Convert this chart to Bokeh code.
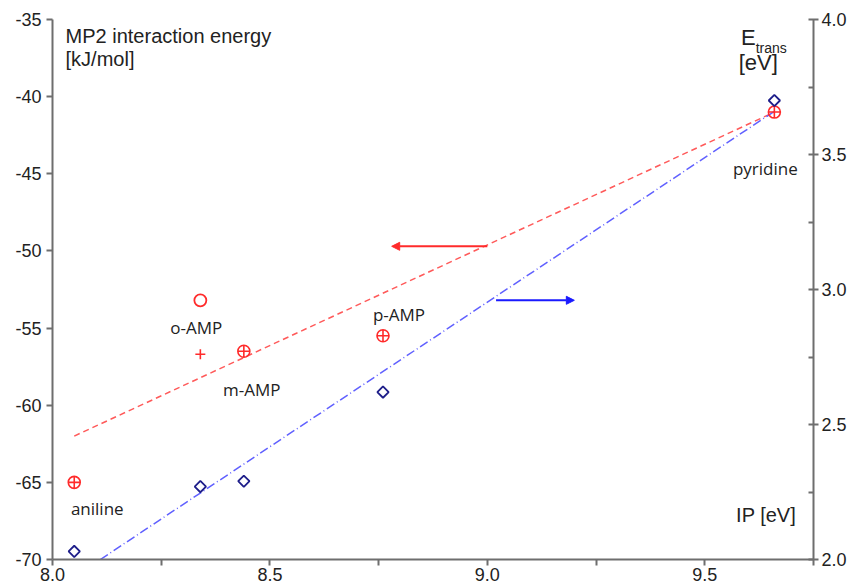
from bokeh.plotting import figure
from bokeh.models import Range1d, LinearAxis, Label, Arrow, NormalHead, FixedTicker, PrintfTickFormatter
from bokeh.embed import file_html
from bokeh.resources import INLINE

# ---- data ----
compounds = ["aniline", "o-AMP", "m-AMP", "p-AMP", "pyridine"]
ip = [8.05, 8.34, 8.44, 8.76, 9.66]                   # IP [eV]
mp2_main = [-65.0, -56.7, -56.5, -55.5, -41.0]         # MP2 interaction energy [kJ/mol]
mp2_oamp_alt = [-53.2]                                 # o-AMP second conformer
etrans = [2.03, 2.27, 2.29, 2.62, 3.70]                # E_trans [eV]

fit_mp2_x = [8.05, 9.66]
fit_mp2_y = [-62.0, -41.0]
fit_et_x = [8.11, 9.66]
fit_et_y = [2.0, 3.66]

x_ticks = [8.0, 8.5, 9.0, 9.5]
y_ticks = [-70, -65, -60, -55, -50, -45, -40, -35]
y2_ticks = [2.0, 2.5, 3.0, 3.5, 4.0]

RED = "#ff2b2b"
NAVY = "#1e1e8a"
GRAY = "#6e6e6e"
TICKFONT = "Liberation Sans"

p = figure(width=849, height=584, output_backend="svg", toolbar_location=None,
           x_range=Range1d(8.0, 9.75), y_range=Range1d(-70, -35),
           min_border_left=52, min_border_right=36, min_border_top=19, min_border_bottom=25)
p.outline_line_color = None
p.grid.visible = False
p.background_fill_color = "white"
p.extra_y_ranges = {"right": Range1d(2.0, 4.0)}

xa = p.xaxis[0]
xa.ticker = FixedTicker(ticks=x_ticks, minor_ticks=[8.25, 8.75, 9.25, 9.75])
xa.major_tick_in = 0
xa.major_tick_out = 6
xa.minor_tick_in = 0
xa.minor_tick_out = 6
xa.major_label_standoff = 2
xa.formatter = PrintfTickFormatter(format="%.1f")

ya = p.yaxis[0]
ya.ticker = FixedTicker(ticks=y_ticks, minor_ticks=[])
ya.major_tick_in = 0
ya.major_tick_out = 6
ya.major_label_standoff = 5
ya.formatter = PrintfTickFormatter(format="%d")

ya2 = LinearAxis(y_range_name="right")
ya2.ticker = FixedTicker(ticks=y2_ticks, minor_ticks=[2.25, 2.75, 3.25, 3.75])
ya2.major_tick_in = 5
ya2.major_tick_out = 5
ya2.minor_tick_in = 5
ya2.minor_tick_out = 0
ya2.major_label_standoff = 3
ya2.formatter = PrintfTickFormatter(format="%.1f")
p.add_layout(ya2, "right")

for ax in (xa, ya, ya2):
    ax.axis_line_color = GRAY
    ax.axis_line_width = 2
    ax.major_tick_line_color = GRAY
    ax.major_tick_line_width = 2
    ax.minor_tick_line_color = GRAY
    ax.minor_tick_line_width = 2
    ax.major_label_text_font = TICKFONT
    ax.major_label_text_font_size = "18px"
    ax.major_label_text_color = "#222222"

# fit lines
p.line(fit_mp2_x, fit_mp2_y, line_color="#ff5a5a", line_width=1.5, line_dash="6 4")
p.line(fit_et_x, fit_et_y, line_color="#6060ff", line_width=1.5, line_dash="9 3 1 3", y_range_name="right")

# markers
main_idx = [0, 2, 3, 4]
p.scatter([ip[i] for i in main_idx], [mp2_main[i] for i in main_idx], marker="circle_cross",
          size=12, fill_color=None, line_color=RED, line_width=1.6)
p.scatter([ip[1]], [mp2_main[1]], marker="cross", size=10, line_color=RED, line_width=1.6)
p.scatter([ip[1]], mp2_oamp_alt, marker="circle", size=12, fill_color=None, line_color=RED, line_width=1.8)
p.scatter(ip, etrans, marker="square", angle=0.785398, size=8, fill_color=None, line_color=NAVY,
          line_width=1.8, y_range_name="right")

# compound labels (offsets from their marker, in pixels)
label_anchor_y = [mp2_main[0], mp2_oamp_alt[0], mp2_main[2], mp2_main[3], mp2_main[4]]
dx = [23, -4, 8, 16, -9]
dy = [-26, -27, -38, 21, -56]
for name, x, y, ox, oy in zip(compounds, ip, label_anchor_y, dx, dy):
    p.add_layout(Label(x=x, y=y, x_offset=ox, y_offset=oy, text=name, text_align="center",
                       text_baseline="middle", text_font="Open Sans", text_font_size="17px",
                       text_color="#222222"))

# arrows indicating which axis each fit belongs to
arrow_red_x = [9.0, 8.78]
arrow_red_y = -49.7
arrow_blue_x = [9.02, 9.2]
arrow_blue_y = 2.96
p.add_layout(Arrow(x_start=arrow_red_x[0], y_start=arrow_red_y, x_end=arrow_red_x[1], y_end=arrow_red_y,
                   line_color=RED, line_width=2,
                   end=NormalHead(size=8, fill_color=RED, line_color=RED)))
p.add_layout(Arrow(x_start=arrow_blue_x[0], y_start=arrow_blue_y, x_end=arrow_blue_x[1], y_end=arrow_blue_y,
                   line_color="#1a1aff", line_width=2, y_range_name="right",
                   end=NormalHead(size=8, fill_color="#1a1aff", line_color="#1a1aff")))

# axis titles as in-plot text
TF = "Liberation Sans"
def lab(x, y, t, size, base="top", **kw):
    p.add_layout(Label(x=x, y=y, text=t, text_font=TF, text_font_size=size,
                       text_baseline=base, text_color="#222222", **kw))

lab(8.03, -35.35, "MP2 interaction energy", "20px")
lab(8.03, -36.85, "[kJ/mol]", "20px")
lab(9.583, -35.35, "E", "22px")
lab(9.617, -36.85, "trans", "14px", base="alphabetic")
lab(9.578, -37.0, "[eV]", "22px")
lab(9.572, -66.4, "IP [eV]", "20px")

open("out.html", "w").write(file_html(p, INLINE))
